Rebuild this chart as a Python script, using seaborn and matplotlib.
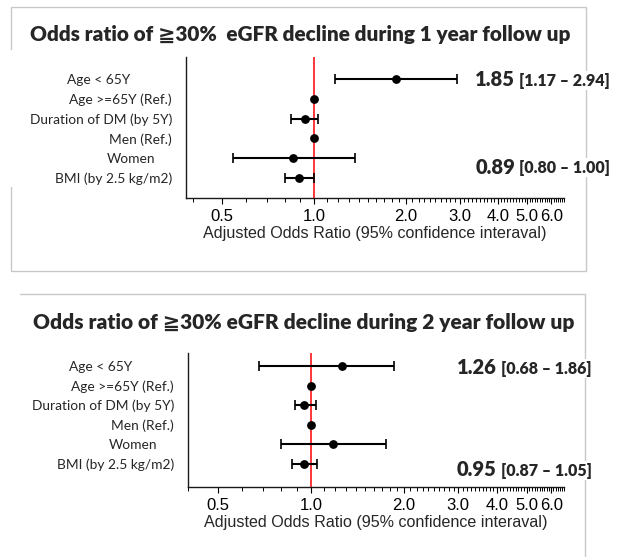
import numpy as np
import pandas as pd
import matplotlib.pyplot as plt
import seaborn as sns
from matplotlib.patches import Rectangle
from matplotlib.lines import Line2D
from matplotlib.transforms import ScaledTranslation, blended_transform_factory

# 数据
labels = ["Age < 65Y", "Age >=65Y (Ref.)", "Duration of DM (by 5Y)",
          "Men (Ref.)", "Women", "BMI (by 2.5 kg/m2)"]

title_1y = "Odds ratio of \u226730%  eGFR decline during 1 year follow up"
or_1y = [1.85, 1.00, 0.93, 1.00, 0.85, 0.89]
lo_1y = [1.17, np.nan, 0.84, np.nan, 0.54, 0.80]
hi_1y = [2.94, np.nan, 1.03, np.nan, 1.36, 1.00]
summary_1y = [("1.85", "[1.17 \u2013 2.94]"), ("0.89", "[0.80 \u2013 1.00]")]

title_2y = "Odds ratio of \u226730% eGFR decline during 2 year follow up"
or_2y = [1.26, 1.00, 0.95, 1.00, 1.18, 0.95]
lo_2y = [0.68, np.nan, 0.89, np.nan, 0.80, 0.87]
hi_2y = [1.86, np.nan, 1.04, np.nan, 1.75, 1.05]
summary_2y = [("1.26", "[0.68 \u2013 1.86]"), ("0.95", "[0.87 \u2013 1.05]")]

tick_vals = [0.5, 1, 2, 3, 4, 5, 6]
tick_labels = ["0.5", "1.0", "2.0", "3.0", "4.0", "5.0", "6.0"]
minor_vals = [v / 10 for v in range(4, 67) if v % 10 != 0 and v != 5]
xlabel = "Adjusted Odds Ratio (95% confidence interaval)"

sns.set_theme(style="ticks")
plt.rcParams['font.family'] = ['Lato', 'DejaVu Sans']

W, H = 623, 557
fig = plt.figure(figsize=(W / 100, H / 100), dpi=100)
fig.patch.set_facecolor("white")


def fx(px):
    return px / W


def fy(py):
    return 1 - py / H


def forest(ax, odds, lo, hi, xlim, ylim, summary, sum_pos):
    df = pd.DataFrame({"label": labels, "or": odds, "lo": lo, "hi": hi,
                       "row": np.arange(len(labels))})
    ax.set_xscale("log")
    ax.axvline(1.0, color="red", lw=1.1, zorder=1)
    ci = df.dropna()
    ax.errorbar(ci["or"], ci["row"],
                xerr=[ci["or"] - ci["lo"], ci["hi"] - ci["or"]],
                fmt="none", ecolor="black", elinewidth=1.5,
                capsize=3.3, capthick=1.2, zorder=2)
    sns.scatterplot(data=df, x="or", y="row", color="black", s=40,
                    linewidth=0, ax=ax, zorder=3, legend=False)
    ax.set_xlim(*xlim)
    ax.set_ylim(*ylim)

    ax.set_xticks(tick_vals, tick_labels, family=["Liberation Sans"], fontsize=12)
    ax.set_xticks(minor_vals, minor=True)
    ax.xaxis.set_minor_formatter(plt.NullFormatter())
    ax.tick_params(axis="x", which="major", length=4.5, width=0.8, pad=3.2,
                   colors="black")
    ax.tick_params(axis="x", which="minor", length=2.8, width=0.7, colors="black")
    ax.set_xlabel(xlabel, family=["Liberation Sans"], fontsize=11.6, labelpad=1.5)
    ax.set_ylabel("")

    ax.set_yticks(df["row"], labels, fontsize=9.9)
    ax.tick_params(axis="y", length=0, pad=10)
    # 两个标签在原图中偏左
    shifts = {"Age < 65Y": 42, "Women": 17}
    for t in ax.get_yticklabels():
        if t.get_text() in shifts:
            t.set_transform(t.get_transform() +
                            ScaledTranslation(-shifts[t.get_text()] / 100, 0,
                                              fig.dpi_scale_trans))

    for s in ["top", "right"]:
        ax.spines[s].set_visible(False)
    for s in ["left", "bottom"]:
        ax.spines[s].set_color("#1a1a1a")
        ax.spines[s].set_linewidth(1.0)

    trans = blended_transform_factory(ax.transAxes, ax.transData)
    for (big, small), (xp, yp) in zip(summary, sum_pos):
        t1 = ax.text(xp, yp, big, transform=trans, fontsize=14.5,
                     fontweight="heavy", ha="left", va="center", clip_on=False,
                     bbox=dict(fc="white", ec="none", pad=1))
        ax.annotate(small, xy=(1, 0.5), xycoords=t1, xytext=(3, -0.5),
                    textcoords="offset points", fontsize=11.5,
                    fontweight="heavy", ha="left", va="center",
                    bbox=dict(fc="white", ec="none", pad=1))


ax1 = fig.add_axes([fx(186), fy(198), fx(564) - fx(186), fy(57) - fy(198)])
forest(ax1, or_1y, lo_1y, hi_1y, (0.38, 6.58), (6.0, -1.1),
       summary_1y, [(0.765, 0.05), (0.765, 4.45)])

ax2 = fig.add_axes([fx(188), fy(487), fx(564) - fx(188), fy(353) - fy(487)])
forest(ax2, or_2y, lo_2y, hi_2y, (0.46, 6.4), (6.17, -0.66),
       summary_2y, [(0.715, 0.1), (0.715, 5.3)])

# 面板边框（左边被标签区遮住一段）
fig.add_artist(Rectangle((fx(11), fy(271)), fx(586) - fx(11), fy(7) - fy(271),
                         transform=fig.transFigure, fill=False,
                         ec="#c8c8c8", lw=1, zorder=0))
fig.add_artist(Rectangle((fx(8), fy(187)), fx(6), fy(50) - fy(187),
                         transform=fig.transFigure, fc="white", ec="none",
                         zorder=0.5))
fig.add_artist(Line2D([fx(20), fx(585)], [fy(294), fy(294)],
                      color="#c8c8c8", lw=1, zorder=0))
fig.add_artist(Line2D([fx(585), fx(585)], [fy(294), 0],
                      color="#c8c8c8", lw=1, zorder=0))

# 标题，按原图宽度缩放字号
renderer = fig.canvas.get_renderer()
for s, xc, yc, wpx in [(title_1y, 300.5, 35, 543), (title_2y, 303.5, 323, 543)]:
    t = fig.text(fx(xc), fy(yc), s, ha="center", va="center",
                 fontsize=15, fontweight="heavy",
                 bbox=dict(fc="white", ec="none", pad=2))
    w = t.get_window_extent(renderer).width
    t.set_fontsize(15 * wpx / w)

plt.savefig("out.png", dpi=100)
plt.close()
